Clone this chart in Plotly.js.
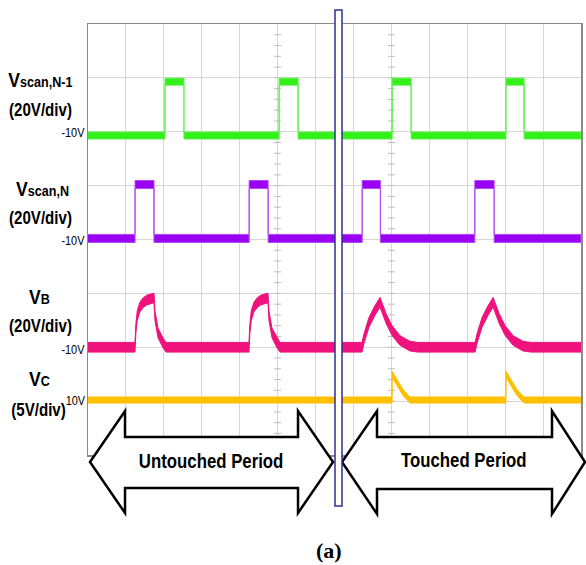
<!DOCTYPE html>
<html><head><meta charset="utf-8">
<script src="https://cdn.plot.ly/plotly-3.0.1.min.js"></script>
<style>html,body{margin:0;padding:0;background:#fff}#g{width:586px;height:565px}
.narrow{transform-box:fill-box;transform-origin:center;transform:scaleX(0.84)}
.narrowR{transform-box:fill-box;transform-origin:right;transform:scaleX(0.84)}
</style>
</head><body><div id="g"></div>
<script>
// ---- data (time in divisions, voltages in volts) ----
var scanN1_t = [0, 2.03, 2.03, 2.53, 2.53, 5.04, 5.04, 5.54, 5.54, 8.02, 8.02, 8.52, 8.52, 11.02, 11.02, 11.5, 11.5, 13];
var scanN1_v = [-10, -10, 10, 10, -10, -10, 10, 10, -10, -10, 10, 10, -10, -10, 10, 10, -10, -10];

var scanN_t = [0, 1.24, 1.24, 1.74, 1.74, 4.25, 4.25, 4.75, 4.75, 7.23, 7.23, 7.71, 7.71, 10.2, 10.2, 10.71, 10.71, 13];
var scanN_v = [-10, -10, 10, 10, -10, -10, 10, 10, -10, -10, 10, 10, -10, -10, 10, 10, -10, -10];

var vb_t = [0, 1.239, 1.262, 1.300, 1.371, 1.460, 1.548, 1.740, 1.767, 1.846, 1.978, 2.057,
            4.245, 4.268, 4.306, 4.377, 4.466, 4.554, 4.746, 4.773, 4.852, 4.984, 5.063,
            7.226, 7.279, 7.411, 7.569, 7.701, 7.859, 8.017, 8.228, 8.492, 8.703,
            10.207, 10.260, 10.392, 10.551, 10.683, 10.841, 10.999, 11.210, 11.473, 11.684, 13];
var vb_v = [-10, -10, -3.0, 1.8, 5.0, 6.6, 7.5, 8.3, 1.6, -4.7, -8.4, -10,
            -10, -3.0, 1.8, 5.0, 6.6, 7.5, 8.3, 1.6, -4.7, -8.4, -10,
            -10, -6.7, -0.7, 3.7, 6.7, 0.7, -3.8, -7.5, -9.6, -10,
            -10, -6.7, -0.7, 3.7, 6.7, 0.7, -3.8, -7.5, -9.6, -10, -10];

var vc_t = [0, 8.017, 8.017, 8.149, 8.307, 8.492, 11.02, 11.02, 11.152, 11.31, 11.495, 13];
var vc_v = [10, 10, 12.4, 11.6, 10.7, 10, 10, 12.4, 11.6, 10.7, 10, 10];

// ---- channel display settings ----
function band(t, v, zero, vPerDiv, half, color, edge) {
  var up = [], lo = [];
  for (var i = 0; i < t.length; i++) {
    var lv = zero + v[i] / vPerDiv;
    up.push(lv + half); lo.push(lv - half);
  }
  var xs = t.concat(t.slice().reverse());
  var ys = up.concat(lo.slice().reverse());
  return {x: xs, y: ys, mode: 'lines', fill: 'toself', fillcolor: color,
          line: {color: edge, width: 1}, hoverinfo: 'skip', showlegend: false};
}

var traces = [
  band(scanN1_t, scanN1_v, 6.43, 20, 0.065, '#33f01a', '#5cf24a'),
  band(scanN_t, scanN_v, 4.52, 20, 0.075, '#9a00f2', '#b048f2'),
  band(vb_t, vb_v, 2.5, 20, 0.09, '#f0127c', '#f0127c'),
  band(vc_t, vc_v, -0.98, 5, 0.056, '#ffc000', '#ffc000')
];

// minor ticks on two grid lines
var tx = [], ty = [];
[5, 8].forEach(function (c) { for (var k = 1; k < 40; k++) { tx.push(c); ty.push(k * 0.2); } });
traces.unshift({x: tx, y: ty, mode: 'markers', marker: {symbol: 'line-ew', size: 5, line: {color: '#bdbdbd', width: 1}},
  hoverinfo: 'skip', showlegend: false});

// ---- layout helpers (pixel -> paper) ----
var L = 88, R = 581, T = 24, B = 455;
function px(x) { return (x - L) / (R - L); }
function py(y) { return (B - y) / (B - T); }
function path(pts) {
  return pts.map(function (p, i) { return (i ? 'L' : 'M') + px(p[0]).toFixed(4) + ',' + py(p[1]).toFixed(4); }).join(' ') + ' Z';
}
var arrowL = [[90,462],[125,411],[125,437],[298,437],[298,411],[333,462],[298,513],[298,488],[125,488],[125,513]];
var arrowR = [[342,462],[377,411],[377,437],[552,437],[552,411],[585,462],[552,514],[552,489],[377,489],[377,514]];

var F = 'Liberation Sans, Arial, sans-serif';
function ann(text, x, y, size, anchor, bold) {
  return {text: bold === false ? text : '<b>' + text + '</b>', xref: 'paper', yref: 'paper', x: px(x), y: py(y),
    xanchor: anchor || 'center', yanchor: 'middle', showarrow: false,
    font: {family: F, size: size, color: '#000'}};
}
function vlab(sub) { return 'V<span style="font-size:15px">' + sub + '</span>'; }

var annotations = [
  ann(vlab('scan,N-1'), 40, 79, 21),
  ann('(20V/div)', 40, 110, 18),
  ann('-10V', 87, 132, 13, 'right', false),
  ann(vlab('scan,N'), 42, 188, 21),
  ann('(20V/div)', 40, 218, 18),
  ann('-10V', 87, 240, 13, 'right', false),
  ann(vlab('B'), 39, 296, 21),
  ann('(20V/div)', 40, 326, 18),
  ann('-10V', 87, 349, 13, 'right', false),
  ann(vlab('C'), 39, 378, 21),
  ann('(5V/div)', 38, 410, 18),
  ann('10V', 87, 400, 13, 'right', false),
  ann('Untouched Period', 211, 461, 20),
  ann('Touched Period', 464, 460, 20),
  {text: '<b>(a)</b>', xref: 'paper', yref: 'paper', x: px(329), y: py(550), xanchor: 'center', yanchor: 'middle',
   showarrow: false, font: {family: 'Liberation Serif, Times New Roman, serif', size: 22, color: '#000'}}
];

var shapes = [
  {type: 'path', xref: 'paper', yref: 'paper', path: path(arrowL), fillcolor: '#fff', line: {color: '#000', width: 2.5}, layer: 'above'},
  {type: 'path', xref: 'paper', yref: 'paper', path: path(arrowR), fillcolor: '#fff', line: {color: '#000', width: 2.5}, layer: 'above'},
  {type: 'rect', xref: 'paper', yref: 'paper', x0: px(335), x1: px(342), y0: py(506), y1: py(10),
   fillcolor: '#fff', line: {color: '#2e3192', width: 1.5}, layer: 'above'}
];

var axisCommon = {showticklabels: false, ticks: '', zeroline: false, showgrid: true, gridcolor: '#d6d6d6', gridwidth: 1,
  showline: true, linecolor: '#8a8a8a', linewidth: 1.5, mirror: true, fixedrange: true};
var layout = {
  width: 586, height: 565, margin: {l: L, r: 586 - R, t: T, b: 565 - B},
  paper_bgcolor: '#fff', plot_bgcolor: '#fff', showlegend: false,
  xaxis: Object.assign({range: [0, 13], dtick: 1, tick0: 0}, axisCommon),
  yaxis: Object.assign({range: [0, 8], dtick: 1, tick0: 0}, axisCommon),
  annotations: annotations, shapes: shapes
};
Plotly.newPlot('g', traces, layout, {staticPlot: true}).then(function (gd) {
  var texts = gd.querySelectorAll('.annotation-text');
  texts.forEach(function (t, i) {
    var a = annotations[i];
    if (!a || a.font.family.indexOf('Serif') >= 0) return;
    t.classList.add(a.xanchor === 'right' ? 'narrowR' : 'narrow');
  });
});
</script></body></html>
